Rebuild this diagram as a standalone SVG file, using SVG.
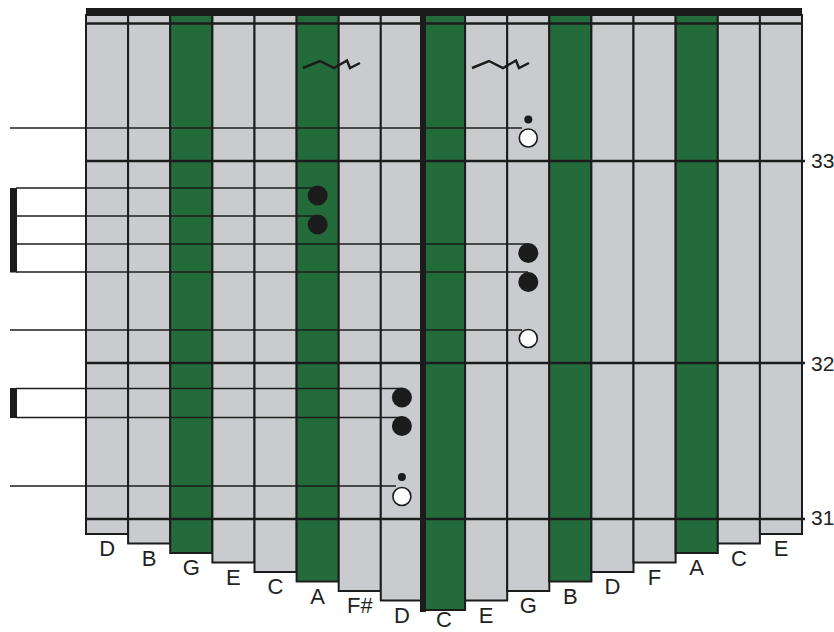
<svg xmlns="http://www.w3.org/2000/svg" width="834" height="632" viewBox="0 0 834 632">
<style>
.t{stroke:#1c1c1c;stroke-width:2}
.gy{fill:#c9cbce}
.gn{fill:#246b3b}
.lbl{font-family:"Liberation Sans",Arial,sans-serif;font-size:22px;fill:#222;text-anchor:middle}
.num{font-family:"Liberation Sans",Arial,sans-serif;font-size:21px;fill:#222}
.hl{stroke:#1c1c1c;stroke-width:2.5;fill:none}
.cn{stroke:#1c1c1c;stroke-width:1.3;fill:none}
.dot{fill:#1c1c1c}
.open{fill:#fff;stroke:#1c1c1c;stroke-width:1.6}
.trem{fill:none;stroke:#1c1c1c;stroke-width:2.5;stroke-linejoin:miter}
</style>
<rect width="834" height="632" fill="#fff"/>
<g id="tines">
<g id="tine-1"><rect class="t gy" x="86" y="15" width="42.1" height="519"/><text class="lbl" x="107.1" y="556">D</text></g>
<g id="tine-2"><rect class="t gy" x="128.1" y="15" width="42.1" height="528.5"/><text class="lbl" x="149.2" y="565.5">B</text></g>
<g id="tine-3"><rect class="t gn" x="170.2" y="15" width="42.1" height="538"/><text class="lbl" x="191.3" y="575">G</text></g>
<g id="tine-4"><rect class="t gy" x="212.4" y="15" width="42.1" height="547.5"/><text class="lbl" x="233.4" y="584.5">E</text></g>
<g id="tine-5"><rect class="t gy" x="254.5" y="15" width="42.1" height="557"/><text class="lbl" x="275.5" y="594">C</text></g>
<g id="tine-6"><rect class="t gn" x="296.6" y="15" width="42.1" height="566.5"/><text class="lbl" x="317.7" y="603.5">A</text></g>
<g id="tine-7"><rect class="t gy" x="338.7" y="15" width="42.1" height="576"/><text class="lbl" x="359.8" y="613">F#</text></g>
<g id="tine-8"><rect class="t gy" x="380.8" y="15" width="42.1" height="585.5"/><text class="lbl" x="401.9" y="622.5">D</text></g>
<g id="tine-9"><rect class="t gn" x="423" y="15" width="42.1" height="595"/><text class="lbl" x="444" y="627">C</text></g>
<g id="tine-10"><rect class="t gy" x="465.1" y="15" width="42.1" height="585.5"/><text class="lbl" x="486.1" y="622.5">E</text></g>
<g id="tine-11"><rect class="t gy" x="507.2" y="15" width="42.1" height="576"/><text class="lbl" x="528.3" y="613">G</text></g>
<g id="tine-12"><rect class="t gn" x="549.3" y="15" width="42.1" height="566.5"/><text class="lbl" x="570.4" y="603.5">B</text></g>
<g id="tine-13"><rect class="t gy" x="591.4" y="15" width="42.1" height="557"/><text class="lbl" x="612.5" y="594">D</text></g>
<g id="tine-14"><rect class="t gy" x="633.5" y="15" width="42.1" height="547.5"/><text class="lbl" x="654.6" y="584.5">F</text></g>
<g id="tine-15"><rect class="t gn" x="675.7" y="15" width="42.1" height="538"/><text class="lbl" x="696.7" y="575">A</text></g>
<g id="tine-16"><rect class="t gy" x="717.8" y="15" width="42.1" height="528.5"/><text class="lbl" x="738.9" y="565.5">C</text></g>
<g id="tine-17"><rect class="t gy" x="759.9" y="15" width="42.1" height="519"/><text class="lbl" x="781" y="556">E</text></g>
</g>
<g id="frame">
<rect x="86" y="8" width="716" height="7" fill="#1c1c1c"/>
<line class="hl" x1="86" y1="23.5" x2="802" y2="23.5"/>
<line class="hl" x1="86" y1="161" x2="805" y2="161"/>
<line class="hl" x1="86" y1="363" x2="805" y2="363"/>
<line class="hl" x1="86" y1="519" x2="805" y2="519"/>
<rect x="420" y="8" width="6" height="604" fill="#1c1c1c"/>
</g>
<g id="measures">
<text class="num" x="811" y="167.5">33</text>
<text class="num" x="811" y="370.5">32</text>
<text class="num" x="811" y="525">31</text>
</g>
<g id="tremolos">
<path class="trem" d="M303,68 L320,61 L334,68 L347,60.5 L350,68 L360,63"/>
<path class="trem" d="M472,68 L489,61 L503,68 L516,60.5 L519,68 L529,63"/>
</g>
<g id="connectors">
<rect x="10" y="188" width="7" height="84.5" fill="#1c1c1c"/>
<rect x="10" y="388" width="7" height="30" fill="#1c1c1c"/>
<line class="cn" x1="10" y1="128" x2="522" y2="128"/>
<line class="cn" x1="16" y1="188" x2="317" y2="188"/>
<line class="cn" x1="16" y1="216" x2="317" y2="216"/>
<line class="cn" x1="16" y1="244" x2="528" y2="244" stroke-width="2.2"/>
<line class="cn" x1="16" y1="272" x2="528" y2="272"/>
<line class="cn" x1="10" y1="330" x2="522" y2="330"/>
<line class="cn" x1="16" y1="388.5" x2="402" y2="388.5"/>
<line class="cn" x1="16" y1="417.5" x2="402" y2="417.5"/>
<line class="cn" x1="10" y1="486" x2="396" y2="486"/>
</g>
<g id="note-1"><circle class="dot" cx="528.3" cy="119.5" r="4"/><circle class="open" cx="528.3" cy="138" r="9"/></g>
<g id="note-2"><circle class="dot" cx="317.7" cy="195.5" r="10"/></g>
<g id="note-3"><circle class="dot" cx="317.7" cy="224.5" r="10"/></g>
<g id="note-4"><circle class="dot" cx="528.3" cy="253" r="10"/></g>
<g id="note-5"><circle class="dot" cx="528.3" cy="282" r="10"/></g>
<g id="note-6"><circle class="open" cx="528.3" cy="338.5" r="9"/></g>
<g id="note-7"><circle class="dot" cx="401.9" cy="397.5" r="10"/></g>
<g id="note-8"><circle class="dot" cx="401.9" cy="426" r="10"/></g>
<g id="note-9"><circle class="dot" cx="401.9" cy="477" r="4"/><circle class="open" cx="401.9" cy="496.5" r="9"/></g>
</svg>
